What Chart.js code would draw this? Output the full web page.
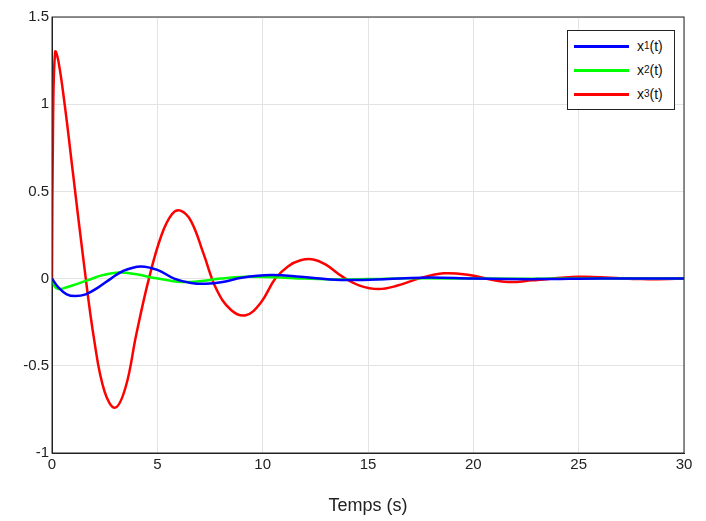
<!DOCTYPE html>
<html><head><meta charset="utf-8">
<script src="https://cdn.jsdelivr.net/npm/chart.js@4"></script>
<style>
body{margin:0;background:#fff;font-family:"Liberation Sans",Arial,sans-serif}
#wrap{position:relative;width:706px;height:521px}
#legend{position:absolute;left:567px;top:30px;width:106px;border:1px solid #222;background:#fff;font-size:14px;padding:3px 0;color:#111}
#legend div{display:flex;align-items:center;height:24px;line-height:14px}
#legend span.l{display:inline-block;width:55px;height:3px;margin:0 8px 0 6px}
sub{font-size:10px;vertical-align:-4px;line-height:0}
</style></head><body>
<div id="wrap"><canvas id="c" width="706" height="521"></canvas>
<div id="legend">
<div><span class="l" style="background:#0000ff"></span>x<sub>1</sub>(t)</div>
<div><span class="l" style="background:#00ff00"></span>x<sub>2</sub>(t)</div>
<div><span class="l" style="background:#ff0000"></span>x<sub>3</sub>(t)</div>
</div></div>
<script>
// sampled read-offs from the reference
var t3 = [0,0.05,0.15,0.3,0.6,1.0,1.5,2.0,2.5,3.0,3.5,4.0,4.6,5.2,5.7,6.1,6.6,7.2,7.8,8.5,9.2,9.9,10.6,11.2,11.8,12.4,13.0,13.8,14.6,15.5,16.4,17.4,18.6,19.8,21.0,21.8,22.8,25,26.5,28,30];
var x3 = [0,0.9,1.3,1.25,1.0,0.6,0.1,-0.35,-0.65,-0.74,-0.62,-0.32,0,0.25,0.37,0.39,0.33,0.14,-0.06,-0.18,-0.21,-0.14,0.0,0.07,0.105,0.11,0.08,0.01,-0.04,-0.06,-0.04,0.0,0.03,0.02,-0.01,-0.02,-0.01,0.01,0.005,-0.003,0];
var t1 = [0,0.3,0.7,1.1,1.6,2.2,2.8,3.4,4.2,5.0,5.8,6.6,7.3,8.1,9.0,10.4,11.8,13.2,14.5,16.5,18,20,23,26,30];
var x1 = [0,-0.05,-0.09,-0.1,-0.09,-0.05,0,0.045,0.07,0.05,0.0,-0.025,-0.03,-0.02,0.005,0.02,0.01,-0.005,-0.008,0.0,0.006,0.0,-0.003,0.001,0];
var t2 = [0,0.1,0.3,0.7,1.2,1.8,2.4,3.2,4.0,4.8,5.5,6.2,7.0,8.0,9.2,10.5,12,13.5,15,17,20,25,30];
var x2 = [0,-0.04,-0.06,-0.05,-0.03,-0.005,0.02,0.035,0.025,0.005,-0.01,-0.02,-0.015,0.0,0.01,0.008,0.0,-0.005,-0.003,0.002,0,0,0];
function pts(t,v){return t.map(function(x,i){return {x:x,y:v[i]};});}
var boxPlugin={id:'box',afterDraw:function(ch){var a=ch.chartArea,c=ch.ctx;c.save();c.strokeStyle='#222';c.lineWidth=1;c.strokeRect(a.left,a.top,a.right-a.left,a.bottom-a.top);c.restore();}};
new Chart(document.getElementById('c'),{
 type:'line',
 data:{datasets:[
  {data:pts(t1,x1),borderColor:'#0000ff',borderWidth:2.5,pointRadius:0,tension:0.4},
  {data:pts(t2,x2),borderColor:'#00ff00',borderWidth:2.5,pointRadius:0,tension:0.4},
  {data:pts(t3,x3),borderColor:'#ff0000',borderWidth:2.5,pointRadius:0,tension:0.4}
 ]},
 options:{responsive:false,animation:false,
  layout:{padding:{top:17,right:22,left:0,bottom:0}},
  plugins:{legend:{display:false},tooltip:{enabled:false}},
  scales:{
   x:{type:'linear',min:0,max:30,ticks:{stepSize:5,color:'#222',font:{size:15,family:'Liberation Sans'},maxRotation:0},
      grid:{color:'#e3e3e3',tickLength:0},border:{color:'#222'},
      title:{display:true,text:'Temps (s)',color:'#222',font:{size:18,family:'Liberation Sans'},padding:{top:0}},
      afterFit:function(s){s.height=68;}},
   y:{min:-1,max:1.5,ticks:{stepSize:0.5,color:'#222',font:{size:15,family:'Liberation Sans'},
        callback:function(v){return String(Math.round(v*10)/10);}},
      grid:{color:'#e3e3e3',tickLength:0},border:{color:'#222'},
      afterFit:function(s){s.width=52;}}
  }},
 plugins:[boxPlugin]
});
</script></body></html>
